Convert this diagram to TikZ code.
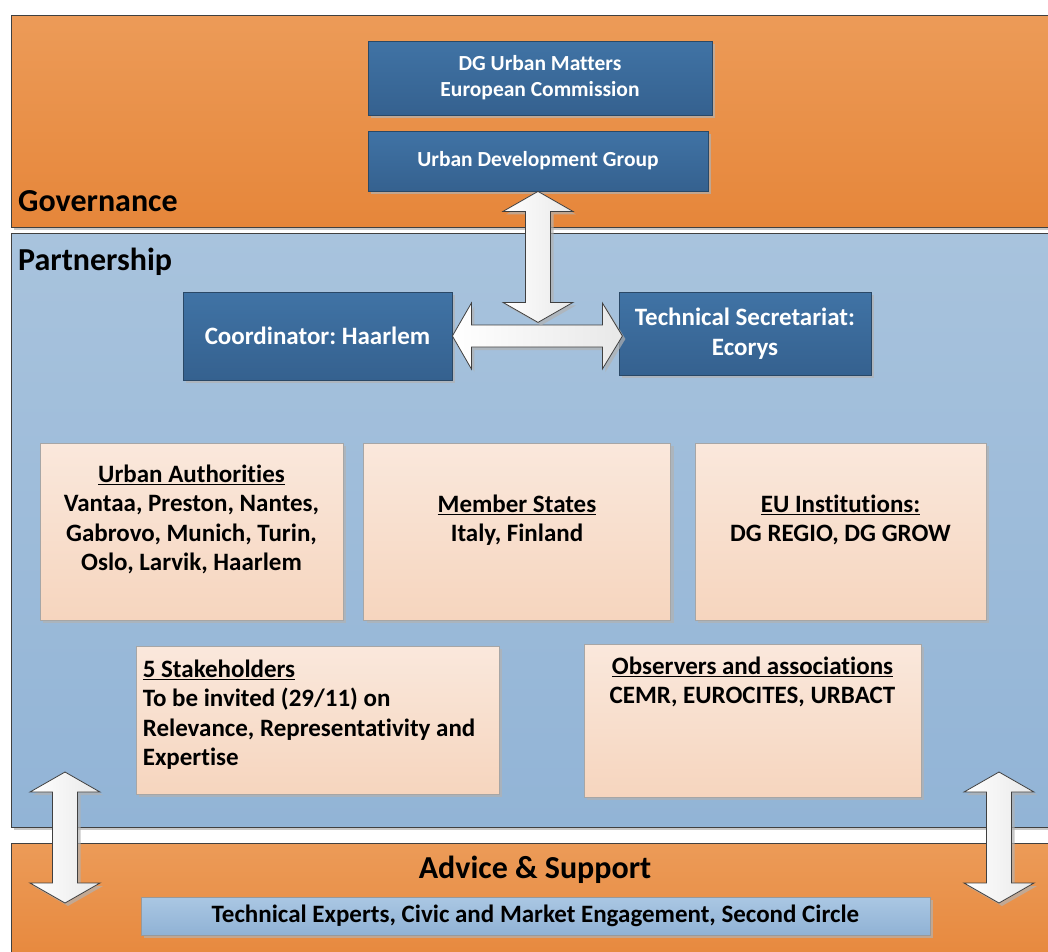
\documentclass[tikz,border=0pt]{standalone}
\usepackage{fontspec}
\setmainfont{Carlito}[Ligatures=NoCommon]
\frenchspacing
\usetikzlibrary{positioning,shadows}

\definecolor{govtop}{HTML}{EC9B58}
\definecolor{govbot}{HTML}{E6863A}
\definecolor{parttop}{HTML}{A8C3DD}
\definecolor{partbot}{HTML}{92B4D6}
\definecolor{darktop}{HTML}{4073A5}
\definecolor{darkbot}{HTML}{35618F}
\definecolor{darkedge}{HTML}{2A4866}
\definecolor{beigetop}{HTML}{FAE8DC}
\definecolor{beigebot}{HTML}{F6D5BE}
\definecolor{bartop}{HTML}{AAC7E3}
\definecolor{barbot}{HTML}{90B2D5}

\begin{document}
\begin{tikzpicture}[x=1pt, y=-1pt,
        shade3/.style={drop shadow={shadow xshift=3pt, shadow yshift=-3pt, fill=black!30, opacity=0.7}},
        band/.style={draw=black!75, line width=0.8pt, shade3},
        govband/.style={band, top color=govtop, bottom color=govbot},
        partband/.style={band, top color=parttop, bottom color=partbot},
        bandlabel/.style={font=\bfseries\fontsize{32}{36}\selectfont, inner sep=0pt},
        darkbox/.style={draw=darkedge, line width=0.8pt, top color=darktop, bottom color=darkbot, shade3,
            text=white, align=center, inner sep=0pt, font=\bfseries\fontsize{21.5}{26}\selectfont},
        lightbox/.style={draw=black!35, line width=0.8pt, top color=beigetop, bottom color=beigebot, shade3, inner sep=0pt},
        boxtext/.style={font=\bfseries\fontsize{25}{29.5}\selectfont, inner sep=0pt},
        blockarrow/.style={draw=black!75, line width=0.8pt, left color=white, right color=black!9, shade3}
    ]
    \useasboundingbox[fill=white] (0,0) rectangle (1048,951);

    \draw[govband] (11,15) rectangle (1070,227);
    \draw[partband] (11,233) rectangle (1070,827);
    \draw[govband] (11,843) rectangle (1070,975);

    \node[bandlabel, anchor=base west] (govlabel) at (18,211) {Governance};
    \node[bandlabel, anchor=base west] (partlabel) at (18,270) {Partnership};
    \node[bandlabel, anchor=base] (advlabel) at (535,878) {Advice \& Support};

    \node[darkbox, minimum width=344pt, minimum height=74pt] (dg) at (540,78) {DG Urban Matters\\European Commission};
    \node[darkbox, minimum width=340pt, minimum height=60pt] (udg) at (538,161) {Urban Development Group};
    \node[darkbox, minimum width=269pt, minimum height=88pt, font=\bfseries\fontsize{25}{30}\selectfont] (coord) at (317.5,336) {Coordinator: Haarlem};
    \node[darkbox, minimum width=252pt, minimum height=83pt, font=\bfseries\fontsize{25}{30}\selectfont] (techsec) at (745,333.5) {Technical Secretariat:\\Ecorys};

    \node[lightbox, minimum width=303pt, minimum height=177pt] (ua) at (191.5,531.5) {};
    \node[lightbox, minimum width=307pt, minimum height=177pt] (ms) at (517,531.5) {};
    \node[lightbox, minimum width=291pt, minimum height=177pt] (eu) at (840.5,531.5) {};
    \node[lightbox, minimum width=363pt, minimum height=148pt] (stake) at (317.5,720) {};
    \node[lightbox, minimum width=337pt, minimum height=153pt] (obs) at (752.5,720.5) {};

    \node[boxtext, align=center, below=22pt of ua.north] (uatext) {\underline{Urban Authorities}\\Vantaa, Preston, Nantes,\\Gabrovo, Munich, Turin,\\Oslo, Larvik, Haarlem};
    \node[boxtext, align=center, below=52pt of ms.north] (mstext) {\underline{Member States}\\Italy, Finland};
    \node[boxtext, align=center, below=52pt of eu.north] (eutext) {\underline{EU Institutions:}\\DG REGIO, DG GROW};
    \node[boxtext, align=left, anchor=north west] (staketext) at ([xshift=7pt, yshift=-14pt]stake.north west) {\underline{5 Stakeholders}\\To be invited (29/11) on\\Relevance, Representativity and\\Expertise};
    \node[boxtext, align=center, below=13pt of obs.north] (obstext) {\underline{Observers and associations}\\CEMR, EUROCITES, URBACT};

    \node[draw=black!40, line width=0.8pt, top color=bartop, bottom color=barbot, shade3, minimum width=789pt, minimum height=38pt,
        inner sep=0pt, font=\bfseries\fontsize{25}{28}\selectfont] (experts) at (535.5,916) {Technical Experts, Civic and Market Engagement, Second Circle};

    \draw[blockarrow] (coord.east) -- ++(19,-33) -- ++(0,22) -- ++(131,0) -- ++(0,-22) -- ++(20,33)
        -- ++(-20,33) -- ++(0,-22) -- ++(-131,0) -- ++(0,22) -- cycle;

    \coordinate (lefttip) at (65,772);
    \coordinate (righttip) at (999,772);
    \foreach \tip in {udg.south, lefttip, righttip}
        \draw[blockarrow] (\tip) -- ++(35,20) -- ++(-22.5,0) -- ++(0,91) -- ++(22.5,0) -- ++(-35,20)
            -- ++(-35,-20) -- ++(22.5,0) -- ++(0,-91) -- ++(-22.5,0) -- cycle;
\end{tikzpicture}
\end{document}
